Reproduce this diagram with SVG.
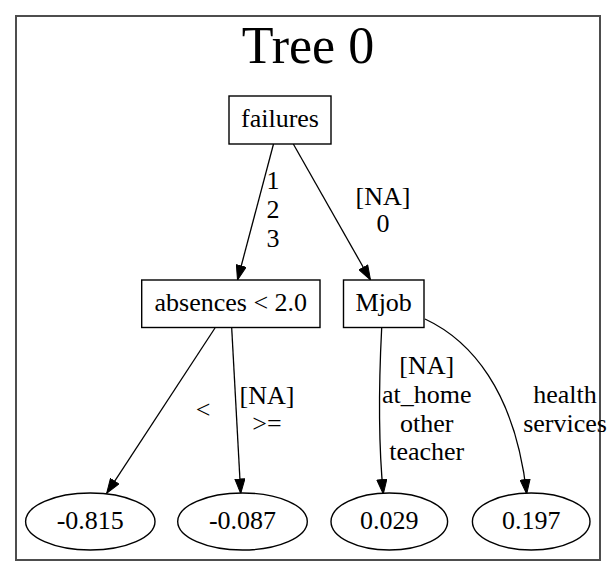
<svg xmlns="http://www.w3.org/2000/svg" width="616" height="577" viewBox="0 0 616 577">
<style>
text{font-family:"Liberation Serif","Times New Roman",serif;font-size:26px;text-anchor:middle;fill:#000}
.title{font-size:52px}
.node{fill:#fff;stroke:#000;stroke-width:1.4}
.edge{fill:none;stroke:#000;stroke-width:1.3}
.frame{fill:#fff;stroke:#4d4d4d;stroke-width:2}
</style>
<defs>
<marker id="arr" markerUnits="userSpaceOnUse" markerWidth="16" markerHeight="11" refX="15" refY="5.5" orient="auto" viewBox="0 0 16 11">
<path d="M0.5,0.5 L15,5.5 L0.5,10.5 z" fill="#000" stroke="#000" stroke-width="1"/>
</marker>
</defs>
<rect width="616" height="577" fill="#fff"/>
<rect class="frame" x="16" y="16" width="584" height="544"/>
<text class="title" x="308" y="63">Tree 0</text>
<g id="connectors">
<path class="edge" marker-end="url(#arr)" d="M273.5,144 L237.5,280"/>
<path class="edge" marker-end="url(#arr)" d="M293.3,144 L370.5,280"/>
<path class="edge" marker-end="url(#arr)" d="M215,328 L106.7,493.3"/>
<path class="edge" marker-end="url(#arr)" d="M231.7,328 L240.7,493.5"/>
<path class="edge" marker-end="url(#arr)" d="M381.7,327.5 C379,380 378,440 383.3,494"/>
<path class="edge" marker-end="url(#arr)" d="M425,319 C470,340 515,390 526.7,494"/>
<text x="273" y="189">1</text>
<text x="273" y="218">2</text>
<text x="273" y="247">3</text>
<text x="383" y="205">[NA]</text>
<text x="383" y="232">0</text>
<text x="203" y="418">&lt;</text>
<text x="267" y="404">[NA]</text>
<text x="267" y="432">&gt;=</text>
<text x="426.7" y="374">[NA]</text>
<text x="426.7" y="403">at_home</text>
<text x="426.7" y="431.5">other</text>
<text x="426.7" y="460">teacher</text>
<text x="565" y="403">health</text>
<text x="565" y="431.5">services</text>
</g>
<g id="node-failures">
<rect class="node" x="229" y="96" width="102" height="48"/>
<text x="280" y="126.5">failures</text>
</g>
<g id="node-absences">
<rect class="node" x="141.7" y="280" width="178.3" height="47.5"/>
<text x="230.8" y="311">absences &lt; 2.0</text>
</g>
<g id="node-mjob">
<rect class="node" x="343.5" y="280" width="80.5" height="47.5"/>
<text x="383.7" y="311">Mjob</text>
</g>
<g id="leaf-1">
<ellipse class="node" cx="90.3" cy="521.5" rx="64.7" ry="28.5"/>
<text x="90.3" y="528.5">-0.815</text>
</g>
<g id="leaf-2">
<ellipse class="node" cx="242.5" cy="521.5" rx="64.8" ry="28.5"/>
<text x="242.5" y="528.5">-0.087</text>
</g>
<g id="leaf-3">
<ellipse class="node" cx="389.3" cy="521.5" rx="58.3" ry="28.5"/>
<text x="389.3" y="528.5">0.029</text>
</g>
<g id="leaf-4">
<ellipse class="node" cx="531.2" cy="521.5" rx="58.8" ry="28.5"/>
<text x="531.2" y="528.5">0.197</text>
</g>
</svg>
